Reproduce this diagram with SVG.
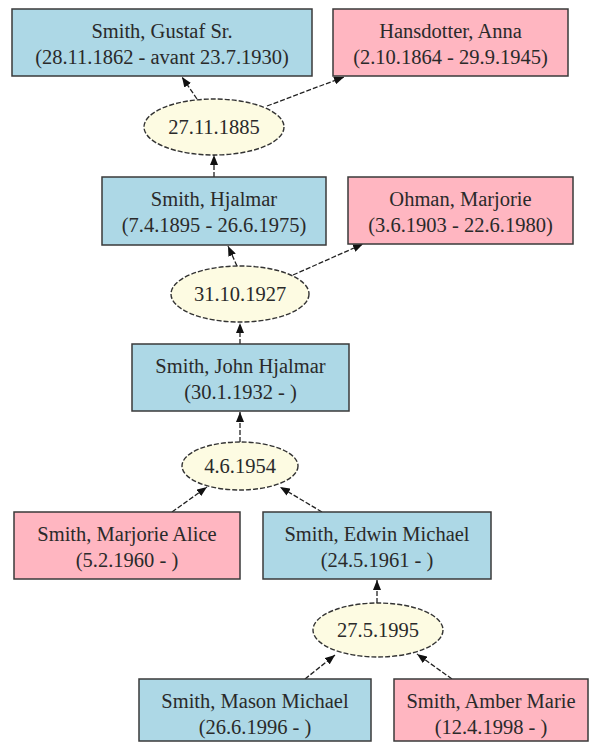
<svg xmlns="http://www.w3.org/2000/svg" width="597" height="742" viewBox="0 0 597 742">
<defs>
<style>
.m rect{fill:#add8e6;stroke:#3a3a3a;stroke-width:1.5}
.f rect{fill:#ffb6c1;stroke:#3a3a3a;stroke-width:1.5}
.fam ellipse{fill:#fdfbe2;stroke:#333;stroke-width:1.4;stroke-dasharray:5,2}
text{font-family:"Liberation Serif","Times New Roman",serif;font-size:20.5px;fill:#2a2a2a;text-anchor:middle}
#edges line{stroke:#222;stroke-width:1.3;stroke-dasharray:5,2;marker-end:url(#arr)}
</style>
<marker id="arr" viewBox="0 0 10 8" refX="10" refY="4" markerWidth="10" markerHeight="8" markerUnits="userSpaceOnUse" orient="auto">
<path d="M0,0 L10,4 L0,8 z" fill="#111"/>
</marker>
</defs>
<rect width="597" height="742" fill="#fff"/>
<g id="edges">
<line x1="197" y1="99" x2="182" y2="77"/>
<line x1="267" y1="106" x2="344" y2="77"/>
<line x1="214" y1="177" x2="214" y2="155"/>
<line x1="237" y1="266" x2="228" y2="246"/>
<line x1="293" y1="275" x2="363" y2="244"/>
<line x1="240" y1="344" x2="240" y2="323"/>
<line x1="240" y1="442" x2="240" y2="412"/>
<line x1="172" y1="512" x2="207" y2="487"/>
<line x1="322" y1="512" x2="280" y2="487"/>
<line x1="377" y1="603" x2="377" y2="580"/>
<line x1="305" y1="679" x2="335" y2="655"/>
<line x1="452" y1="679" x2="417" y2="654"/>
</g>
<g id="gustaf" class="m"><rect x="12" y="9" width="300" height="67"/><text x="162" y="38">Smith, Gustaf Sr.</text><text x="162" y="64">(28.11.1862 - avant 23.7.1930)</text></g>
<g id="anna" class="f"><rect x="333" y="9" width="235" height="67"/><text x="450.5" y="38">Hansdotter, Anna</text><text x="450.5" y="64">(2.10.1864 - 29.9.1945)</text></g>
<g id="fam1885" class="fam"><ellipse cx="214" cy="127" rx="70" ry="28"/><text x="214" y="134">27.11.1885</text></g>
<g id="hjalmar" class="m"><rect x="102" y="177" width="224" height="68"/><text x="214" y="206">Smith, Hjalmar</text><text x="214" y="232">(7.4.1895 - 26.6.1975)</text></g>
<g id="ohman" class="f"><rect x="348" y="177" width="225" height="67"/><text x="460.5" y="206">Ohman, Marjorie</text><text x="460.5" y="232">(3.6.1903 - 22.6.1980)</text></g>
<g id="fam1927" class="fam"><ellipse cx="240" cy="294" rx="69" ry="28"/><text x="240" y="301">31.10.1927</text></g>
<g id="john" class="m"><rect x="132" y="344" width="217" height="67"/><text x="240.5" y="373">Smith, John Hjalmar</text><text x="240.5" y="399">(30.1.1932 - )</text></g>
<g id="fam1954" class="fam"><ellipse cx="240" cy="466" rx="58" ry="24"/><text x="240" y="473">4.6.1954</text></g>
<g id="marjorie" class="f"><rect x="14" y="512" width="226" height="67"/><text x="127" y="541">Smith, Marjorie Alice</text><text x="127" y="567">(5.2.1960 - )</text></g>
<g id="edwin" class="m"><rect x="263" y="512" width="228" height="67"/><text x="377" y="541">Smith, Edwin Michael</text><text x="377" y="567">(24.5.1961 - )</text></g>
<g id="fam1995" class="fam"><ellipse cx="378" cy="630" rx="65" ry="27"/><text x="378" y="637">27.5.1995</text></g>
<g id="mason" class="m"><rect x="139" y="679" width="232" height="62"/><text x="255" y="708">Smith, Mason Michael</text><text x="255" y="734">(26.6.1996 - )</text></g>
<g id="amber" class="f"><rect x="394" y="679" width="194" height="62"/><text x="491" y="708">Smith, Amber Marie</text><text x="491" y="734">(12.4.1998 - )</text></g>
</svg>
